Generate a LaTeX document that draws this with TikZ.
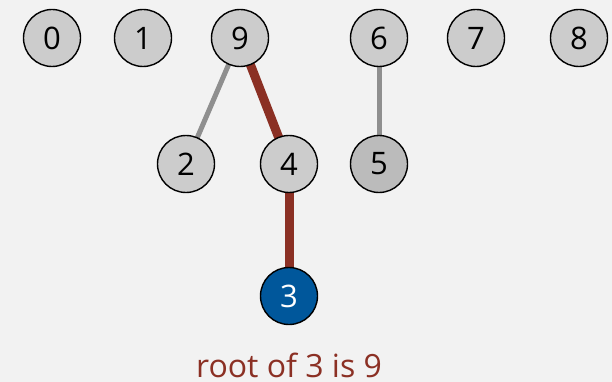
\documentclass[tikz,border=0pt]{standalone}
\usepackage{fontspec}
\setmainfont{Open Sans}
\definecolor{bg}{HTML}{F2F2F2}
\definecolor{nodegray}{HTML}{CCCCCC}
\definecolor{nodegraydark}{HTML}{BBBBBB}
\definecolor{edgegray}{HTML}{8F8F8F}
\definecolor{pathred}{HTML}{8B3024}
\definecolor{qblue}{HTML}{00579B}
\begin{document}
\begin{tikzpicture}[x=1pt,y=-1pt,
  site/.style={circle,draw=black,line width=1.4pt,fill=nodegray,minimum size=57pt,inner sep=0pt,font=\fontsize{31}{31}\selectfont},
  qsite/.style={site,fill=qblue,text=white},
  link/.style={draw=edgegray,line width=5pt},
  rootpath/.style={draw=pathred,line width=9pt}]
\fill[bg] (0,0) rectangle (612,382);
\useasboundingbox (0,0) rectangle (612,382);
\draw[link] (240,38) -- (186,164);
\draw[rootpath] (240,38) -- (289,164);
\draw[rootpath] (289,164) -- (289,296);
\draw[link] (379,38) -- (379,164);
\node[site] (n0) at (52,38) {0};
\node[site] (n1) at (143,38) {1};
\node[site] (n9) at (240,38) {9};
\node[site] (n6) at (379,38) {6};
\node[site] (n7) at (476,38) {7};
\node[site] (n8) at (579,38) {8};
\node[site] (n2) at (186,164) {2};
\node[site] (n4) at (289,164) {4};
\node[site,fill=nodegraydark] (n5) at (379,164) {5};
\node[qsite] (n3) at (289,296) {3};
\node[text=pathred,font=\fontsize{32}{32}\selectfont,anchor=base] (lbl) at (289,377) {root of 3 is 9};
\end{tikzpicture}
\end{document}
